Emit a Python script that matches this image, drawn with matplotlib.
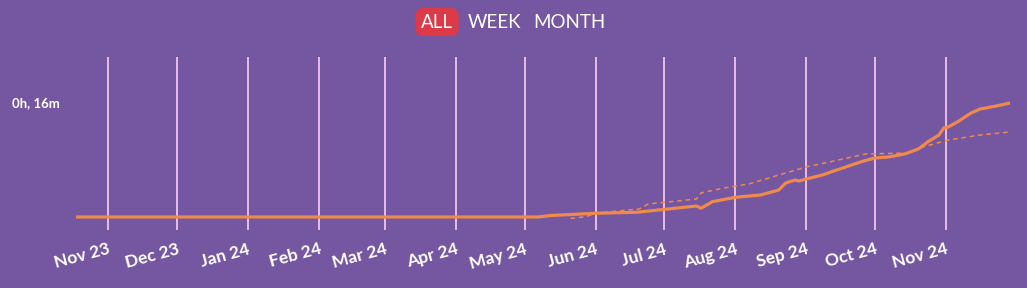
import matplotlib.pyplot as plt
import matplotlib.dates as mdates
import numpy as np
from datetime import datetime

# time watched, minutes
dias = ['2023-10-18', '2024-05-01', '2024-05-07', '2024-05-12', '2024-06-01', '2024-06-19',
        '2024-07-01', '2024-07-15', '2024-07-17', '2024-07-22', '2024-08-01', '2024-08-12',
        '2024-08-20', '2024-08-23', '2024-08-27', '2024-08-29', '2024-09-01', '2024-09-08',
        '2024-09-13', '2024-09-17', '2024-09-22', '2024-09-26', '2024-10-01', '2024-10-07',
        '2024-10-14', '2024-10-20', '2024-10-24', '2024-10-29', '2024-10-31', '2024-11-02',
        '2024-11-06', '2024-11-12', '2024-11-16', '2024-11-23', '2024-11-29']
minutos = [0.0, 0.0, 0.0, 0.2, 0.52, 0.66, 1.06, 1.53, 1.22, 2.13, 2.74, 3.06,
           3.76, 4.73, 5.15, 5.01, 5.29, 5.84, 6.40, 6.82, 7.37, 7.79, 8.21, 8.35,
           8.77, 9.46, 10.43, 11.41, 12.38, 12.52, 13.22, 14.47, 15.03, 15.44, 15.86]

# dashed trend line
dias_tend = ['2024-05-21', '2024-05-28', '2024-06-01', '2024-06-20', '2024-06-24', '2024-07-15',
             '2024-07-17', '2024-07-27', '2024-08-07', '2024-08-20', '2024-09-01', '2024-09-15',
             '2024-09-27', '2024-10-15', '2024-10-22', '2024-11-02', '2024-11-16', '2024-11-29']
minutos_tend = [-0.2, 0.05, 0.55, 1.11, 1.81, 2.50, 3.34, 4.03, 4.6, 5.84, 6.96, 7.93,
                8.77, 8.90, 9.74, 10.71, 11.41, 11.83]

meses = ['2023-11-01', '2023-12-01', '2024-01-01', '2024-02-01', '2024-03-01', '2024-04-01',
         '2024-05-01', '2024-06-01', '2024-07-01', '2024-08-01', '2024-09-01', '2024-10-01',
         '2024-11-01']
rotulos = ['Nov 23', 'Dec 23', 'Jan 24', 'Feb 24', 'Mar 24', 'Apr 24', 'May 24', 'Jun 24',
           'Jul 24', 'Aug 24', 'Sep 24', 'Oct 24', 'Nov 24']

fundo = '#7556A1'
laranja = '#EF8A4C'
rosa = '#F3C4E8'

conv = lambda l: [datetime.strptime(d, '%Y-%m-%d') for d in l]
x = conv(dias)
xt = conv(dias_tend)
xm = conv(meses)

W, H = 1027, 288
fig = plt.figure(figsize=(W/100, H/100), dpi=100, facecolor=fundo)
ax = fig.add_axes([76/W, 1-230/H, (1010-76)/W, (230-57)/H])
ax.set_facecolor(fundo)

for m in xm:
    ax.axvline(m, color=rosa, lw=1.3, zorder=1)

ax.plot(xt, minutos_tend, '--', color=laranja, lw=1.1, dashes=(3, 2.5), zorder=2)
ax.plot(x, minutos, '-', color=laranja, lw=2.3, zorder=3, solid_capstyle='round')

ax.set_xlim(x[0], x[-1])
ax.set_ylim(-1.81, 22.26)
for s in ax.spines.values():
    s.set_visible(False)

ax.set_xticks(xm)
ax.set_xticklabels(rotulos, rotation=15, ha='right', rotation_mode='anchor',
                   fontsize=12.5, fontweight='bold', family='Lato', color='white')
ax.set_yticks([16])
ax.set_yticklabels(['0h, 16m'], fontsize=9.5, fontweight='bold', family='Lato', color='white')
ax.tick_params(axis='x', length=0, pad=8)
ax.tick_params(axis='y', length=0, pad=11.5)

# buttons
fig.text(437/W, 1-22/H, 'ALL', ha='center', va='center', fontsize=13.5, family='Lato', color='white',
         bbox=dict(boxstyle='round,pad=0.3,rounding_size=0.45', facecolor='#DC3A47', edgecolor='none'))
fig.text(494/W, 1-22/H, 'WEEK', ha='center', va='center', fontsize=13.5, family='Lato', color='white')
fig.text(569/W, 1-22/H, 'MONTH', ha='center', va='center', fontsize=13.5, family='Lato', color='white')

plt.savefig('out.png', dpi=100, facecolor=fundo)
